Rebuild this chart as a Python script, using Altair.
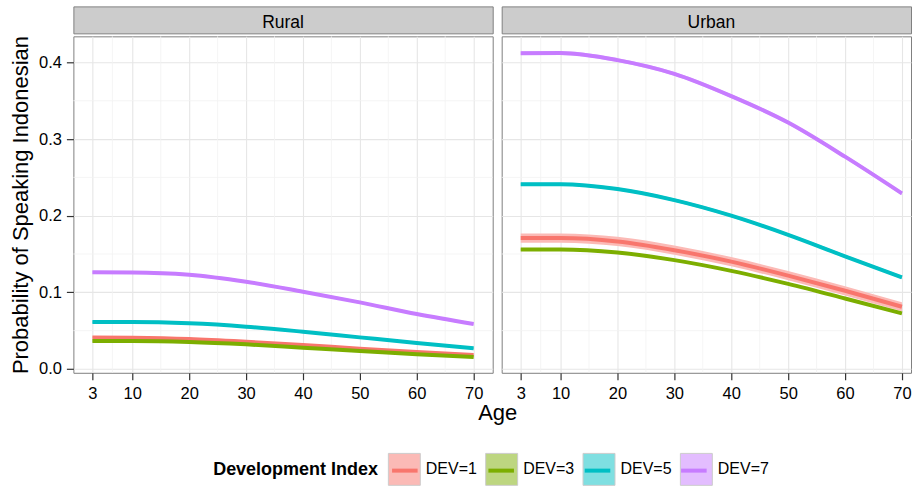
import altair as alt
import pandas as pd

# ---- data -----------------------------------------------------------------
ages = [3, 10, 20, 30, 40, 50, 60, 70]
dev_levels = ["DEV=1", "DEV=3", "DEV=5", "DEV=7"]
areas = ["Rural", "Urban"]

rural_dev1 = [0.0412, 0.0408, 0.0391, 0.0356, 0.0313, 0.0265, 0.0222, 0.0182]
rural_dev3 = [0.0365, 0.0365, 0.0352, 0.0321, 0.0278, 0.0235, 0.0191, 0.0156]
rural_dev5 = [0.0612, 0.0612, 0.0595, 0.0552, 0.0486, 0.0412, 0.0339, 0.0269]
rural_dev7 = [0.1261, 0.1260, 0.1230, 0.1138, 0.1008, 0.0869, 0.0717, 0.0587]

urban_dev1 = [0.1708, 0.1708, 0.1664, 0.1550, 0.1400, 0.1217, 0.1020, 0.0812]
urban_dev3 = [0.1560, 0.1560, 0.1520, 0.1420, 0.1280, 0.1110, 0.0920, 0.0725]
urban_dev5 = [0.2410, 0.2410, 0.2347, 0.2203, 0.2000, 0.1750, 0.1470, 0.1195]
urban_dev7 = [0.4120, 0.4122, 0.4030, 0.3850, 0.3560, 0.3215, 0.2770, 0.2290]

# half-width of the confidence ribbon around each curve
rural_band = [0.0012, 0.0010, 0.0012, 0.0018]
urban_band = [0.0060, 0.0015, 0.0020, 0.0025]

colors = ["#F8766D", "#7CAE00", "#00BFC4", "#C77CFF"]
# the same hues at half strength, used for the ribbons
ribbon_colors = ["#FBBAB6", "#BDD680", "#7FDFE1", "#E3BDFF"]

x_breaks = [3, 10, 20, 30, 40, 50, 60, 70]
x_minor = [6.5, 15, 25, 35, 45, 55, 65]
y_breaks = [0.0, 0.1, 0.2, 0.3, 0.4]
y_minor = [0.05, 0.15, 0.25, 0.35]

series = {
    "Rural": ([rural_dev1, rural_dev3, rural_dev5, rural_dev7], rural_band),
    "Urban": ([urban_dev1, urban_dev3, urban_dev5, urban_dev7], urban_band),
}

rows = []
for area, (curves, bands) in series.items():
    for dev, values, half in zip(dev_levels, curves, bands):
        for age, p in zip(ages, values):
            rows.append({"Area": area, "DEV": dev, "Age": age, "P": p,
                         "lo": p - half, "hi": p + half})
df = pd.DataFrame(rows)

# ---- styling --------------------------------------------------------------
FONT = "Liberation Sans"
PANEL_W = 420
RIGHT_W = 410
PANEL_H = 337
STRIP_H = 27
GAP = 9
PX_PER_YEAR = PANEL_W / 73.7
X_LO = -0.35
Y_DOMAIN = [-0.005, 0.434]

# legend geometry
LEG_X = 140
LEG_Y = 447
KEY = 32                 # side of a legend key box
LEG_TITLE_W = 165        # width taken by the bold legend title
LEG_TITLE_PAD = 9
LABEL_W = 51.1           # width of a "DEV=n" label
SPACE_W = 4.45           # width of a blank label
COL_PAD = 5.5


def key_legend(**kw):
    base = dict(
        orient="none", legendY=LEG_Y, direction="horizontal",
        labelFont=FONT, labelFontSize=16, labelColor="black",
        columnPadding=COL_PAD, symbolSize=KEY * KEY,
    )
    base.update(kw)
    return alt.Legend(**base)


def plot_panel(area, width, x_hi, show_y):
    sub = df[df["Area"] == area]
    x_scale = alt.Scale(domain=[X_LO, x_hi], nice=False, zero=False)
    y_scale = alt.Scale(domain=Y_DOMAIN, nice=False, zero=False)

    if show_y:
        y_axis = alt.Axis(values=y_breaks, format=".1f", title="Probability of Speaking Indonesian",
                          titleFontSize=22, titleFont=FONT, titleColor="black",
                          titleFontWeight="normal", titleX=-53, titleY=PANEL_H / 2,
                          titleAngle=270, titleBaseline="middle", titleAlign="center")
        # the shared "Age" title is centred under both panels
        x_axis = alt.Axis(values=x_breaks, title="Age", titleFontSize=22, titleFont=FONT,
                          titleColor="black", titleFontWeight="normal",
                          titleX=(2 * PANEL_W + GAP) / 2, titleY=47, titleAlign="center",
                          titleBaseline="alphabetic")
    else:
        y_axis = alt.Axis(values=y_breaks, labels=False, ticks=False, title=None)
        x_axis = alt.Axis(values=x_breaks, title=None)

    minor_v = alt.Chart(pd.DataFrame({"m": x_minor})).mark_rule(
        color="#F3F3F3", strokeWidth=0.8
    ).encode(x=alt.X("m:Q", scale=x_scale, axis=x_axis))
    minor_h = alt.Chart(pd.DataFrame({"m": y_minor})).mark_rule(
        color="#F3F3F3", strokeWidth=0.8
    ).encode(y=alt.Y("m:Q", scale=y_scale, axis=y_axis))

    # ribbons: their legend carries the title, the labels and the key boxes
    bands = alt.Chart(sub).transform_calculate(Band="datum.DEV").mark_area(
        interpolate="monotone", clip=True
    ).encode(
        x=alt.X("Age:Q", scale=x_scale, axis=x_axis),
        y=alt.Y("lo:Q", scale=y_scale, axis=y_axis),
        y2="hi:Q",
        fill=alt.Fill("Band:N", scale=alt.Scale(range=ribbon_colors),
                      legend=key_legend(
                          legendX=LEG_X,
                          title="Development Index", titleOrient="left",
                          titleAnchor="middle", titleBaseline="middle",
                          titleFont=FONT, titleFontSize=18, titleFontWeight="bold",
                          titleColor="black", titlePadding=LEG_TITLE_PAD,
                          labelOffset=5,
                          symbolType="square", symbolStrokeColor="#CCCCCC",
                          symbolStrokeWidth=1)),
    )

    # fitted curves: their legend only adds the coloured stroke inside each box
    lines = alt.Chart(sub).mark_line(
        interpolate="monotone", strokeWidth=4, clip=True
    ).encode(
        x=alt.X("Age:Q", scale=x_scale, axis=x_axis),
        y=alt.Y("P:Q", scale=y_scale, axis=y_axis),
        stroke=alt.Stroke("DEV:N", scale=alt.Scale(range=colors),
                          legend=key_legend(
                              legendX=LEG_X + LEG_TITLE_W + LEG_TITLE_PAD,
                              title=None, labelExpr="' '",
                              labelOffset=5 + LABEL_W - SPACE_W,
                              symbolType="M-0.8,0H0.8", symbolStrokeWidth=4)),
        detail="DEV:N",
    )

    return alt.layer(minor_v, minor_h, bands, lines).properties(width=width, height=PANEL_H)


def strip_panel(area, width):
    return alt.Chart(pd.DataFrame({"Area": [area]})).mark_text(
        font=FONT, fontSize=17.5, color="black", baseline="alphabetic", align="center"
    ).encode(
        text="Area:N",
        x=alt.value(PANEL_W / 2),
        y=alt.value(22),
    ).properties(width=width, height=STRIP_H,
                 view=alt.ViewBackground(fill="#CCCCCC", stroke="#7F7F7F", strokeWidth=1))


strips = alt.hconcat(strip_panel("Rural", PANEL_W), strip_panel("Urban", RIGHT_W),
                     spacing=GAP, bounds="flush")
plots = alt.hconcat(
    plot_panel("Rural", PANEL_W, X_LO + PANEL_W / PX_PER_YEAR, True),
    plot_panel("Urban", RIGHT_W, X_LO + RIGHT_W / PX_PER_YEAR, False),
    spacing=GAP, bounds="flush",
)

chart = alt.vconcat(strips, plots, spacing=0).properties(
    padding={"left": 8.5, "top": 5, "right": 0, "bottom": 0},
    background="white",
).configure_view(
    stroke="#7F7F7F", strokeWidth=1
).configure_axis(
    grid=True, gridColor="#E6E6E6", gridWidth=1.1, domain=False,
    tickColor="#333333", tickSize=7, tickWidth=1.2,
    labelFont=FONT, labelFontSize=16.5, labelColor="black",
).configure_axisX(
    labelPadding=6
).configure_axisY(
    labelPadding=5
)

chart.save("out.html", embed_options={"renderer": "svg", "actions": False})
